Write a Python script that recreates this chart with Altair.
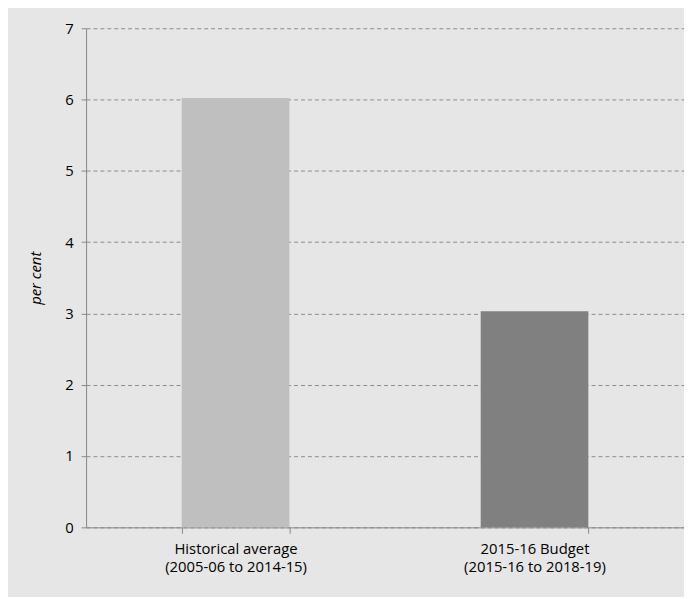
import altair as alt
import pandas as pd

categories = ["Historical average\n(2005-06 to 2014-15)", "2015-16 Budget\n(2015-16 to 2018-19)"]
values = [6.02, 3.03]
colors = ["#bfbfbf", "#808080"]

df = pd.DataFrame({"cat": categories, "val": values, "col": colors})

font = "Open Sans"

chart = alt.Chart(df).mark_bar().encode(
    x=alt.X(
        "cat:N",
        sort=categories,
        title=None,
        scale=alt.Scale(paddingInner=0.64, paddingOuter=0.32),
        axis=alt.Axis(
            labelAngle=0,
            labelExpr="split(datum.label, '\\n')",
            labelFontSize=15,
            labelLineHeight=19,
            labelColor="#000000",
            labelFont=font,
            labelPadding=8,
            domainColor="#888888",
            tickColor="#888888",
            tickBand="extent",
            tickSize=6,
        ),
    ),
    y=alt.Y(
        "val:Q",
        title="per cent",
        scale=alt.Scale(domain=[0, 7]),
        axis=alt.Axis(
            values=[0, 1, 2, 3, 4, 5, 6, 7],
            labelFontSize=15,
            labelColor="#000000",
            labelFont=font,
            labelPadding=8,
            titleFont=font,
            titleFontSize=15,
            titleFontStyle="italic",
            titleFontWeight="normal",
            titleColor="#000000",
            titlePadding=22,
            domainColor="#888888",
            tickColor="#888888",
            tickSize=5,
            grid=True,
            gridColor="#8c8c8c",
            gridDash=[4, 3],
            gridWidth=1,
        ),
    ),
    color=alt.Color("col:N", scale=None, legend=None),
).properties(
    width=605,
    height=505,
    background="#e6e6e6",
    padding={"left": 79, "top": 17, "right": 0, "bottom": 67},
    autosize=alt.AutoSizeParams(type="none"),
).configure_view(strokeWidth=0)

chart.save("out.html", embed_options={"renderer": "svg", "actions": False})
